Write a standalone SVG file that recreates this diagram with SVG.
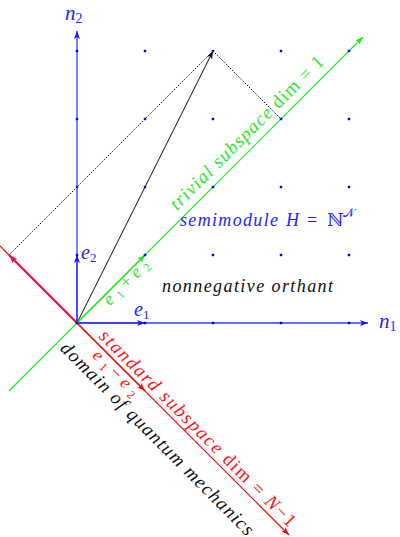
<svg xmlns="http://www.w3.org/2000/svg" width="400" height="537" viewBox="0 0 400 537">
<style>
text{font-family:"Liberation Serif","DejaVu Serif",serif;}
.it{font-style:italic;}
.blue{fill:#2424ff;}
.green{fill:#2ee82e;}
.red{fill:#ff1414;}
.blk{fill:#111;}
.dot{fill:#0000ee;}
</style>
<defs>
<marker id="mBlue" viewBox="0 0 8 6" refX="8" refY="3" markerWidth="8" markerHeight="6" markerUnits="userSpaceOnUse" orient="auto"><path d="M0,0 L8,3 L0,6 L2,3 z" fill="#1515ff"/></marker>
<marker id="mGreen" viewBox="0 0 8 6" refX="8" refY="3" markerWidth="8" markerHeight="6" markerUnits="userSpaceOnUse" orient="auto"><path d="M0,0 L8,3 L0,6 L2,3 z" fill="#1ee81e"/></marker>
<marker id="mRed" viewBox="0 0 8 6" refX="8" refY="3" markerWidth="8" markerHeight="6" markerUnits="userSpaceOnUse" orient="auto"><path d="M0,0 L8,3 L0,6 L2,3 z" fill="#ff0000"/></marker>
<marker id="mRedThick" viewBox="0 0 8 6" refX="8" refY="3" markerWidth="9" markerHeight="7" markerUnits="userSpaceOnUse" orient="auto"><path d="M0,0 L8,3 L0,6 L2,3 z" fill="#ee1040"/></marker>
<marker id="mBlack" viewBox="0 0 8 6" refX="8" refY="3" markerWidth="8" markerHeight="6" markerUnits="userSpaceOnUse" orient="auto"><path d="M0,0 L8,3 L0,6 L2,3 z" fill="#111"/></marker>
</defs>
<rect width="400" height="537" fill="#fff"/>

<g id="connectors" fill="none">
  <line x1="77" y1="323" x2="77" y2="31" stroke="#7474ff" stroke-width="1.8" marker-end="url(#mBlue)"/>
  <line x1="77" y1="323" x2="368" y2="323" stroke="#3a3aff" stroke-width="1.3" marker-end="url(#mBlue)"/>
  <line x1="9" y1="391" x2="363" y2="37" stroke="#1ee81e" stroke-width="1.2" marker-end="url(#mGreen)"/>
  <line x1="0" y1="246" x2="289" y2="535" stroke="#ff0000" stroke-width="1.2" marker-end="url(#mRed)"/>
  <line x1="213" y1="51" x2="9" y2="255" stroke="#111" stroke-width="1" stroke-dasharray="1.5 1.5"/>
  <line x1="213" y1="51" x2="281" y2="119" stroke="#111" stroke-width="1" stroke-dasharray="1.5 1.5"/>
  <line x1="77" y1="323" x2="213" y2="51" stroke="#111" stroke-width="1" marker-end="url(#mBlack)"/>
  <line x1="77" y1="323" x2="145" y2="323" stroke="#1515ff" stroke-width="1" marker-end="url(#mBlue)"/>
  <line x1="77" y1="323" x2="77" y2="255" stroke="#1515ff" stroke-width="1" marker-end="url(#mBlue)"/>
  <line x1="77" y1="323" x2="145" y2="255" stroke="#1ee81e" stroke-width="1.2" marker-end="url(#mGreen)"/>
  <line x1="77" y1="323" x2="145" y2="391" stroke="#ff0000" stroke-width="1.2" marker-end="url(#mRed)"/>
  <line x1="77" y1="323" x2="9" y2="255" stroke="#ee1040" stroke-width="2.2" marker-end="url(#mRedThick)"/>
</g>

<g id="lattice" class="dot">
  <rect x="75.8" y="49.8" width="2.4" height="2.4"/><rect x="143.8" y="49.8" width="2.4" height="2.4"/><rect x="211.8" y="49.8" width="2.4" height="2.4"/><rect x="279.8" y="49.8" width="2.4" height="2.4"/><rect x="347.8" y="49.8" width="2.4" height="2.4"/>
  <rect x="75.8" y="117.8" width="2.4" height="2.4"/><rect x="143.8" y="117.8" width="2.4" height="2.4"/><rect x="211.8" y="117.8" width="2.4" height="2.4"/><rect x="279.8" y="117.8" width="2.4" height="2.4"/><rect x="347.8" y="117.8" width="2.4" height="2.4"/>
  <rect x="75.8" y="185.8" width="2.4" height="2.4"/><rect x="143.8" y="185.8" width="2.4" height="2.4"/><rect x="211.8" y="185.8" width="2.4" height="2.4"/><rect x="279.8" y="185.8" width="2.4" height="2.4"/><rect x="347.8" y="185.8" width="2.4" height="2.4"/>
  <rect x="75.8" y="253.8" width="2.4" height="2.4"/><rect x="143.8" y="253.8" width="2.4" height="2.4"/><rect x="211.8" y="253.8" width="2.4" height="2.4"/><rect x="279.8" y="253.8" width="2.4" height="2.4"/><rect x="347.8" y="253.8" width="2.4" height="2.4"/>
  <rect x="75.8" y="321.8" width="2.4" height="2.4"/><rect x="143.8" y="321.8" width="2.4" height="2.4"/><rect x="211.8" y="321.8" width="2.4" height="2.4"/><rect x="279.8" y="321.8" width="2.4" height="2.4"/><rect x="347.8" y="321.8" width="2.4" height="2.4"/>
</g>

<g id="axis-labels" class="blue">
  <text id="n2" class="it" x="65" y="20" font-size="21">n<tspan font-size="14" font-style="normal" dy="3">2</tspan></text>
  <text id="n1" class="it" x="379" y="328" font-size="21">n<tspan font-size="14" font-style="normal" dy="3">1</tspan></text>
  <text id="e2" class="it" x="81" y="259" font-size="20">e<tspan font-size="13" font-style="normal" dy="3">2</tspan></text>
  <text id="e1" class="it" x="134" y="316" font-size="20">e<tspan font-size="13" font-style="normal" dy="3">1</tspan></text>
</g>

<g id="semimodule" class="blue">
  <text class="it" x="180" y="226" font-size="18" textLength="98" lengthAdjust="spacing">semimodule</text>
  <text class="it" x="286" y="226" font-size="18">H</text>
  <text x="307" y="226" font-size="18">=</text>
  <text x="327" y="226" font-size="18" style="font-family:'DejaVu Serif',serif">ℕ</text>
  <text x="343" y="217" font-size="12" style="font-family:'DejaVu Sans',sans-serif">𝒩</text>
</g>

<g id="orthant" class="blk">
  <text class="it" x="162" y="292" font-size="18" textLength="171" lengthAdjust="spacing">nonnegative orthant</text>
</g>

<g id="trivial-label" class="green">
  <text transform="translate(251,137) rotate(-45)" x="0" y="0" text-anchor="middle" font-size="19" textLength="209" lengthAdjust="spacing"><tspan class="it">trivial subspace</tspan> dim = 1</text>
</g>

<g id="e1pe2-label" class="green">
  <text transform="translate(130,286) rotate(-45)" x="0" y="0" text-anchor="middle" font-size="18" textLength="57" lengthAdjust="spacing"><tspan class="it">e</tspan><tspan font-size="12" dy="3">1</tspan><tspan dy="-3">+</tspan><tspan class="it">e</tspan><tspan font-size="12" dy="3">2</tspan></text>
</g>

<g id="standard-label" class="red">
  <text transform="translate(193.5,432.5) rotate(45)" x="0" y="0" text-anchor="middle" font-size="19" textLength="270" lengthAdjust="spacing"><tspan class="it">standard subspace</tspan> dim = <tspan class="it">N</tspan>−1</text>
</g>

<g id="e1me2-label" class="red">
  <text transform="translate(112,377) rotate(45)" x="0" y="0" text-anchor="middle" font-size="18" textLength="58" lengthAdjust="spacing"><tspan class="it">e</tspan><tspan font-size="12" dy="3">1</tspan><tspan dy="-3">−</tspan><tspan class="it">e</tspan><tspan font-size="12" dy="3">2</tspan></text>
</g>

<g id="domain-label" class="blk">
  <text class="it" transform="translate(153,443) rotate(45)" x="0" y="0" text-anchor="middle" font-size="19" textLength="265" lengthAdjust="spacing">domain of quantum mechanics</text>
</g>
</svg>
